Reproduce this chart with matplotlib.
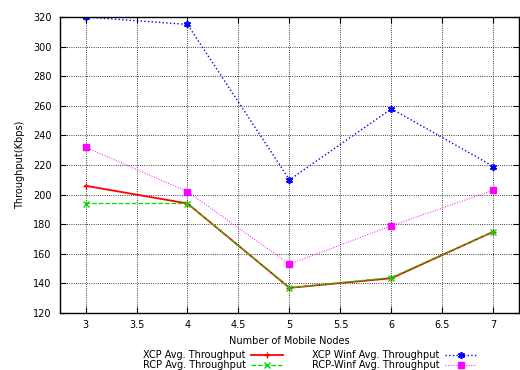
import matplotlib
matplotlib.use("Agg")
import matplotlib.pyplot as plt

# number of mobile nodes
nodes = [3, 4, 5, 6, 7]
# average throughput in Kbps
xcp = [206, 194, 137, 143.5, 175]
rcp = [194, 194, 137, 144, 175]
xcp_winf = [320, 315, 210, 258, 219]
rcp_winf = [232, 202, 153, 179, 203]

x_ticks = [3, 3.5, 4, 4.5, 5, 5.5, 6, 6.5, 7]
y_ticks = [120, 140, 160, 180, 200, 220, 240, 260, 280, 300, 320]


def main():
    plt.rcParams['font.family'] = 'DejaVu Sans'
    plt.rcParams['font.size'] = 7

    fig = plt.figure(figsize=(5.2, 3.7), dpi=100)
    ax = fig.add_axes([0.1154, 0.154, 0.8826, 0.8])

    ax.plot(nodes, xcp, color='#ff0000', linestyle='-', linewidth=1.3,
            marker='+', markersize=5, label='XCP Avg. Throughput')
    ax.plot(nodes, rcp, color='#00dd00', linestyle='--', linewidth=0.9,
            marker='x', markersize=4, label='RCP Avg. Throughput')
    ax.plot(nodes, xcp_winf, color='#0000ff', linestyle=':', linewidth=1.0,
            marker=(6, 2, 0), markersize=5, markeredgewidth=1.2,
            label='XCP Winf Avg. Throughput')
    ax.plot(nodes, rcp_winf, color='#ff00ff', linestyle=':', linewidth=0.7,
            marker='s', markersize=4, label='RCP-Winf Avg. Throughput')

    ax.set_xlim(2.75, 7.25)
    ax.set_ylim(120, 320)
    ax.set_xticks(x_ticks)
    ax.set_xticklabels([('%g' % t) for t in x_ticks])
    ax.set_yticks(y_ticks)
    ax.grid(True, color='black', linestyle=':', linewidth=0.6)
    ax.tick_params(direction='in', top=True, right=True, length=4)
    ax.tick_params(axis='x', pad=5)
    ax.tick_params(axis='y', pad=6)
    for s in ax.spines.values():
        s.set_linewidth(1.0)

    ax.set_xlabel('Number of Mobile Nodes', labelpad=4)
    ax.set_ylabel('Throughput(Kbps)', labelpad=6)

    fig.legend(loc='lower center', bbox_to_anchor=(0.595, -0.025), ncol=2,
               frameon=False, markerfirst=False, handlelength=3.2,
               columnspacing=3.0, labelspacing=0.0, handletextpad=0.6)

    fig.savefig('out.png', dpi=100)


if __name__ == '__main__':
    main()
